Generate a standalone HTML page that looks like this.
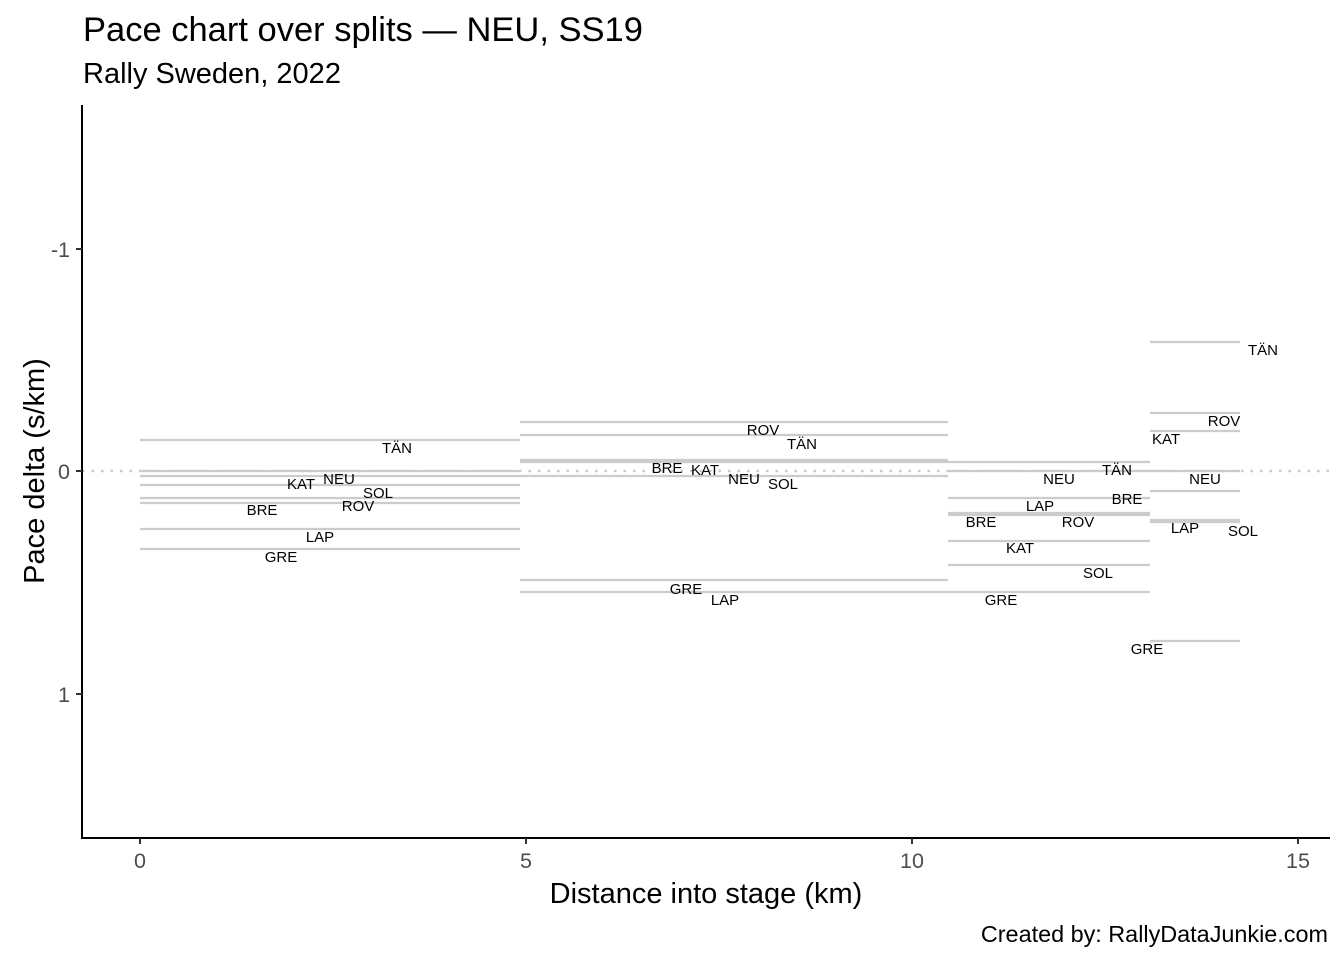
<!DOCTYPE html>
<html><head><meta charset="utf-8"><style>body{margin:0;background:#fff}svg{display:block;font-family:"Liberation Sans","DejaVu Sans",sans-serif}</style></head>
<body>
<svg width="1344" height="960" xmlns="http://www.w3.org/2000/svg">
<rect width="1344" height="960" fill="#fff"/>
<text x="83" y="41" font-size="34.5" fill="#000">Pace chart over splits — NEU, SS19</text>
<text x="83" y="83" font-size="29" fill="#000">Rally Sweden, 2022</text>
<line x1="82" y1="471" x2="1330" y2="471" stroke="#c8c8c8" stroke-width="2.5" stroke-dasharray="2.5,7"/>
<g stroke="#cccccc" stroke-width="2.2">
<line x1="140" x2="520" y1="440" y2="440"/><line x1="140" x2="520" y1="471" y2="471"/><line x1="140" x2="520" y1="476" y2="476"/><line x1="140" x2="520" y1="485" y2="485"/><line x1="140" x2="520" y1="498" y2="498"/><line x1="140" x2="520" y1="503" y2="503"/><line x1="140" x2="520" y1="529" y2="529"/><line x1="140" x2="520" y1="549" y2="549"/>
<line x1="520" x2="948" y1="422" y2="422"/><line x1="520" x2="948" y1="435" y2="435"/><line x1="520" x2="948" y1="460" y2="460"/><line x1="520" x2="948" y1="462" y2="462"/><line x1="520" x2="948" y1="476" y2="476"/><line x1="520" x2="948" y1="580" y2="580"/><line x1="520" x2="948" y1="592" y2="592"/>
<line x1="948" x2="1150" y1="462" y2="462"/><line x1="948" x2="1150" y1="471" y2="471"/><line x1="948" x2="1150" y1="498" y2="498"/><line x1="948" x2="1150" y1="513" y2="513"/><line x1="948" x2="1150" y1="515" y2="515"/><line x1="948" x2="1150" y1="541" y2="541"/><line x1="948" x2="1150" y1="565" y2="565"/><line x1="948" x2="1150" y1="592" y2="592"/>
<line x1="1150" x2="1240" y1="342" y2="342"/><line x1="1150" x2="1240" y1="413" y2="413"/><line x1="1150" x2="1240" y1="431" y2="431"/><line x1="1150" x2="1240" y1="471" y2="471"/><line x1="1150" x2="1240" y1="491" y2="491"/><line x1="1150" x2="1240" y1="520" y2="520"/><line x1="1150" x2="1240" y1="522" y2="522"/><line x1="1150" x2="1240" y1="641" y2="641"/>
</g>
<g font-size="15" fill="#000" text-anchor="middle" dominant-baseline="middle">
<text x="397" y="449">TÄN</text><text x="339" y="480">NEU</text><text x="301" y="485">KAT</text><text x="378" y="494">SOL</text><text x="358" y="507">ROV</text><text x="262" y="511">BRE</text><text x="320" y="538">LAP</text><text x="281" y="558">GRE</text>
<text x="763" y="431">ROV</text><text x="802" y="445">TÄN</text><text x="667" y="469">BRE</text><text x="705" y="471">KAT</text><text x="744" y="480">NEU</text><text x="783" y="485">SOL</text><text x="686" y="590">GRE</text><text x="725" y="601">LAP</text>
<text x="1059" y="480">NEU</text><text x="1117" y="471">TÄN</text><text x="1040" y="507">LAP</text><text x="1127" y="500">BRE</text><text x="981" y="523">BRE</text><text x="1078" y="523">ROV</text><text x="1020" y="549">KAT</text><text x="1098" y="574">SOL</text><text x="1001" y="601">GRE</text>
<text x="1263" y="351">TÄN</text><text x="1224" y="422">ROV</text><text x="1166" y="440">KAT</text><text x="1205" y="480">NEU</text><text x="1185" y="529">LAP</text><text x="1243" y="532">SOL</text><text x="1147" y="650">GRE</text>
</g>
<line x1="82" y1="105" x2="82" y2="839" stroke="#000" stroke-width="2"/>
<line x1="81" y1="838" x2="1330" y2="838" stroke="#000" stroke-width="2"/>
<g stroke="#333" stroke-width="2">
<line x1="76" x2="82" y1="249" y2="249"/><line x1="76" x2="82" y1="471" y2="471"/><line x1="76" x2="82" y1="694" y2="694"/>
<line x1="140" x2="140" y1="838" y2="844"/><line x1="526" x2="526" y1="838" y2="844"/><line x1="912" x2="912" y1="838" y2="844"/><line x1="1298" x2="1298" y1="838" y2="844"/>
</g>
<g font-size="21.5" fill="#4d4d4d">
<text x="70" y="257" text-anchor="end">-1</text><text x="70" y="479" text-anchor="end">0</text><text x="70" y="702" text-anchor="end">1</text>
<text x="140" y="868" text-anchor="middle">0</text><text x="526" y="868" text-anchor="middle">5</text><text x="912" y="868" text-anchor="middle">10</text><text x="1298" y="868" text-anchor="middle">15</text>
</g>
<text x="706" y="903" font-size="29" text-anchor="middle" fill="#000">Distance into stage (km)</text>
<text transform="translate(44,471) rotate(-90)" font-size="29" text-anchor="middle" fill="#000">Pace delta (s/km)</text>
<text x="1328" y="942" font-size="23.4" text-anchor="end" fill="#000">Created by: RallyDataJunkie.com</text>
</svg>
</body></html>
